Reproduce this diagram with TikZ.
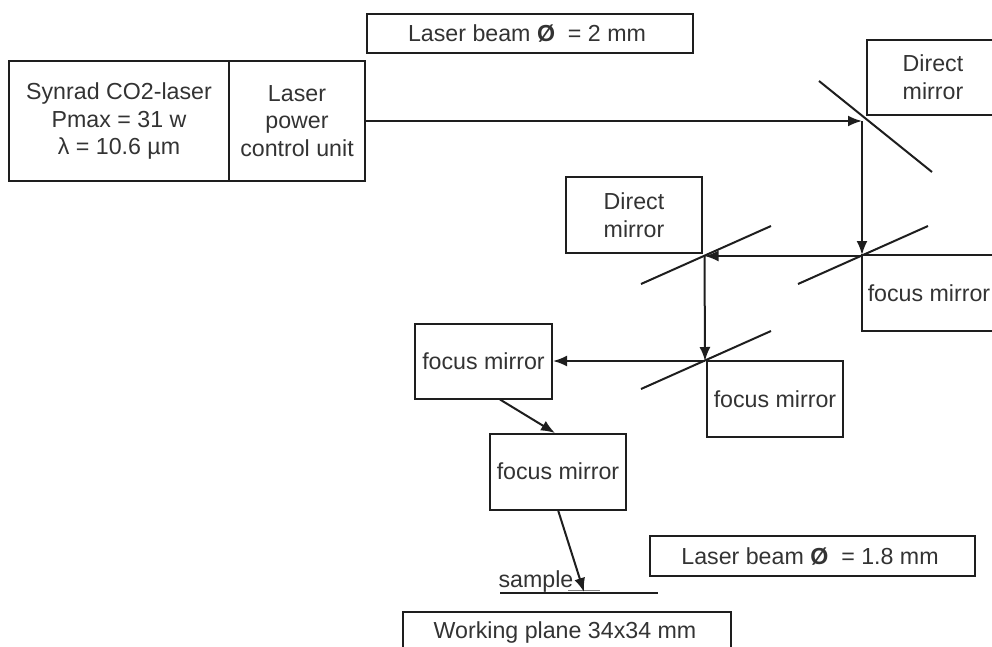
\documentclass[tikz,border=0pt]{standalone}
\usepackage{fontspec}
\setmainfont{Liberation Sans}
\usetikzlibrary{arrows.meta}
\definecolor{ink}{HTML}{1E1E1E}
\definecolor{txt}{HTML}{333333}
\tikzset{
  box/.style={draw=ink,line width=2pt,rectangle,inner sep=0pt,align=center,text=txt,
    font=\fontsize{23.2}{27.5}\selectfont},
  lbl/.style={inner sep=0pt,align=center,text=txt,font=\fontsize{23.2}{27.5}\selectfont},
  beam/.style={draw=ink,line width=2pt,-{Latex[length=14pt,width=11pt]}},
  mirror/.style={draw=ink,line width=2pt},
}
\newcommand{\boxnode}[7]{\node[box,minimum width=#4 pt,minimum height=#5 pt] (#1) at (#2,#3) {#6};}
\begin{document}
\begin{tikzpicture}[x=1pt,y=-1pt]
\useasboundingbox (0,0) rectangle (992,646);
\clip (0,0) rectangle (992,646);
% boxes
\boxnode{beamA}{530}{33.5}{326}{39}{Laser beam \textbf{Ø}\ \ = 2 mm\hspace{6pt}}{}
\boxnode{laser}{119}{121}{220}{120}{Synrad CO2-laser\\Pmax = 31 w\\λ = 10.6 µm}{}
\boxnode{ctrl}{297}{121}{136}{120}{Laser\\power\\control unit}{}
\boxnode{dmA}{933}{77}{132}{75}{Direct\\mirror}{}
\boxnode{fmA}{931}{293}{138}{76}{focus mirror\hspace{4pt}}{}
\boxnode{dmB}{634}{215}{136}{76}{Direct\\mirror}{}
\boxnode{fmB}{775}{399}{136}{76}{focus mirror}{}
\boxnode{fmC}{483.5}{361.5}{137}{75}{focus mirror}{}
\boxnode{fmD}{558}{471.5}{136}{76}{focus mirror}{}
\boxnode{beamB}{812.5}{556}{325}{40}{Laser beam \textbf{Ø}\ \ = 1.8 mm\hspace{5pt}}{}
\boxnode{plane}{567}{632}{328}{40}{Working plane 34x34 mm\hspace{4pt}}{}
\node[lbl] (samp) at (536,581) {sample};
% mirror centres and ends
\coordinate (c1) at (862,121);
\coordinate (c2) at (862,255);
\coordinate (c3) at (704.5,256);
\coordinate (c4) at (705,361);
\coordinate (m1a) at (819,81);  \coordinate (m1b) at (932,172);
\coordinate (m2a) at (798,284); \coordinate (m2b) at (928,226);
\coordinate (m3a) at (641,284); \coordinate (m3b) at (771,226);
\coordinate (m4a) at (641,389); \coordinate (m4b) at (771,331);
\coordinate (s1) at (500,593);  \coordinate (s2) at (658,593);
\coordinate (g1) at (568,590.5);\coordinate (g2) at (600,590.5);
\coordinate (fmCout) at (500,399.5);
\coordinate (fmDin) at (555,433);
\coordinate (fmDout) at (558,510);
\coordinate (spot) at (584,592);
% mirrors
\draw[mirror] (m1a) -- (m1b);
\draw[mirror] (m2a) -- (m2b);
\draw[mirror] (m3a) -- (m3b);
\draw[mirror] (m4a) -- (m4b);
\draw[mirror] (s1) -- (s2);
\draw[draw=gray,line width=1pt] (g1) -- (g2);
% beam
\draw[beam] (ctrl.east |- c1) -- (c1);
\draw[beam] (c1) -- (c2);
\draw[beam] (c2 |- c3) -- (c3);
\draw[beam] (c3) -- (c4);
\draw[beam] (c4) -- (fmC.east |- c4);
\draw[beam] (fmCout) -- (fmDin);
\draw[beam] (fmDout) -- (spot);
\end{tikzpicture}
\end{document}
